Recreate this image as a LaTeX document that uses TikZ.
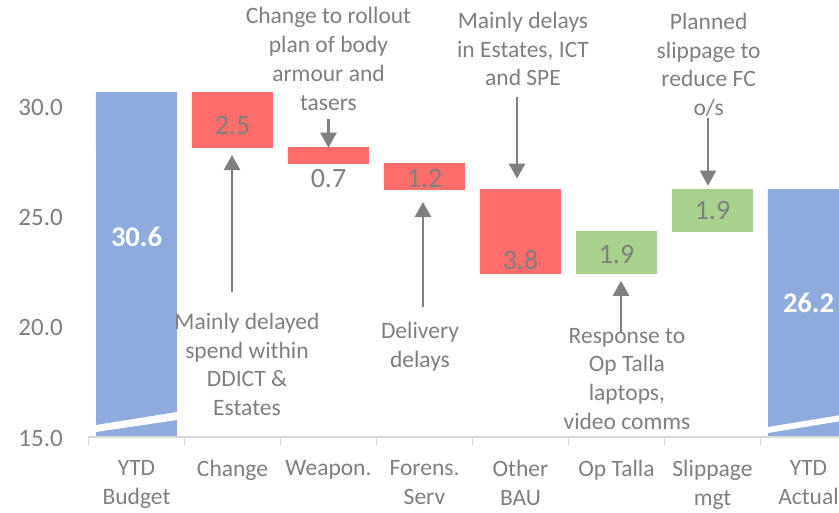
\documentclass[tikz,border=0pt]{standalone}
\usepackage{fontspec}
\setmainfont{Carlito}
\usetikzlibrary{arrows.meta, positioning, fit}

\definecolor{barblue}{HTML}{8FAADC}
\definecolor{barbluelt}{HTML}{ADC1E5}
\definecolor{barred}{HTML}{FF6C6C}
\definecolor{barredlt}{HTML}{FF8787}
\definecolor{bargreen}{HTML}{A9D18E}
\definecolor{bargreenlt}{HTML}{BBDBA4}
\definecolor{txtgray}{HTML}{7F7F7F}
\definecolor{axisgray}{HTML}{D9D9D9}

\begin{document}
\begin{tikzpicture}[
    x=96pt, y=22.07pt,
    bar/.style={rectangle, inner sep=0pt, draw=none},
    bluebar/.style={bar, fill=barblue},
    redbar/.style={bar, top color=barred, middle color=barredlt, bottom color=barred},
    greenbar/.style={bar, top color=bargreen, middle color=bargreenlt, bottom color=bargreen},
    note/.style={align=center, text=txtgray, inner sep=0pt, font=\fontsize{23.5}{28.8}\selectfont},
    catlabel/.style={align=center, text=txtgray, inner sep=0pt, anchor=north, font=\fontsize{23.5}{29}\selectfont},
    ticklabel/.style={text=txtgray, inner sep=0pt, anchor=east, font=\fontsize{25}{30}\selectfont},
    barval/.style={text=txtgray, inner sep=0pt, font=\fontsize{28}{32}\selectfont},
    totval/.style={text=white, inner sep=0pt, font=\bfseries\fontsize{28.5}{32}\selectfont},
    callout/.style={draw=txtgray, line width=2.6pt, -{Triangle[length=15pt, width=16pt]}}
]
\clip (-1.421875,11.5564) rectangle (7.317708,34.8006);

% Bars
\node[bluebar, fit={(-0.422,15) (0.422,30.6)}] (bud) {};
\node[redbar, fit={(0.578,28.1) (1.422,30.6)}] (chg) {};
\node[redbar, fit={(1.578,27.4) (2.422,28.1)}] (wpn) {};
\node[redbar, fit={(2.578,26.2) (3.422,27.4)}] (fsv) {};
\node[redbar, fit={(3.578,22.4) (4.422,26.2)}] (bau) {};
\node[greenbar, fit={(4.578,22.4) (5.422,24.3)}] (tal) {};
\node[greenbar, fit={(5.578,24.3) (6.422,26.2)}] (slp) {};
\node[bluebar, fit={(6.578,15) (7.422,26.2)}] (act) {};

% lighter band at top of totals
\shade[top color=barblue, middle color=barbluelt, bottom color=barblue] (-0.422,28.0) rectangle (0.422,30.6);
\shade[top color=barblue, middle color=barbluelt, bottom color=barblue] (6.578,23.9) rectangle (7.422,26.2);

% axis breaks
\fill[white] (-0.422,15.544) -- (0.422,16.133) -- (0.422,15.770) -- (-0.422,15.227) -- cycle;
\fill[white] (6.578,15.453) -- (7.422,16.056) -- (7.422,15.784) -- (6.578,15.181) -- cycle;

% Values
\node[totval] (budval) at (0,24.06) {30.6};
\node[barval] (chgval) at (1,29.09) {2.5};
\node[barval, below=6pt of wpn] (wpnval) {0.7};
\node[barval] (fsvval) at (3,26.69) {1.2};
\node[barval] (bauval) at (4,23.02) {3.8};
\node[barval] (talval) at (5,23.29) {1.9};
\node[barval] (slpval) at (6,25.24) {1.9};
\node[totval] (actval) at (7,21.07) {26.2};

% Axis
\draw[axisgray, line width=1.3pt] (-0.5,15) -- (7.4,15);
\foreach \i in {0,...,8}
  \draw[axisgray, line width=1.3pt] (\i-0.5,15) -- ++(0,-0.36);

\foreach \v in {15,20,25,30}
  \node[ticklabel] (tick\v) at (-0.766,\v-0.05) {\v.0};

\node[catlabel] (catbud) at (0,13.958) {YTD\\Budget};
\node[catlabel] (catchg) at (1,13.958) {Change};
\node[catlabel] (catwpn) at (2,13.958) {Weapon.};
\node[catlabel] (catfsv) at (3,13.958) {Forens.\\Serv};
\node[catlabel] (catbau) at (4,13.958) {Other\\BAU};
\node[catlabel] (cattal) at (5,13.958) {Op Talla};
\node[catlabel] (catslp) at (6,13.958) {Slippage\\mgt};
\node[catlabel] (catact) at (7,13.958) {YTD\\Actual};

% Notes
\node[note] (noteA) at (2.0,32.13) {Change to rollout\\plan of body\\armour and\\tasers};
\node[note] (noteB) at (4.026,32.58) {Mainly delays\\in Estates, ICT\\and SPE};
\node[note] (noteC) at (5.96,31.86) {Planned\\slippage to\\reduce FC\\o/s};
\node[note] (noteD) at (1.151,18.285) {Mainly delayed\\spend within\\DDICT \&\\Estates};
\node[note] (noteE) at (2.953,19.10) {Delivery\\delays};
\node[note] (noteF) at (5.109,17.63) {Response to\\Op Talla\\laptops,\\video comms};

% Arrows
\coordinate (tailA) at (2.0,29.41);
\coordinate (tailB) at (3.964,30.41);
\coordinate (tailC) at (5.953,29.45);
\coordinate (tailD) at (0.995,21.57);
\coordinate (tailE) at (2.984,20.89);
\coordinate (tailF) at (5.047,19.76);

\draw[callout] (tailA) -- (wpn.north);
\draw[callout, shorten >=11pt] (tailB) -- (tailB |- bau.north);
\draw[callout, shorten >=4pt] (tailC) -- (tailC |- slp.north);
\draw[callout, shorten >=7pt] (tailD) -- (tailD |- chg.south);
\draw[callout, shorten >=12pt] (tailE) -- (tailE |- fsv.south);
\draw[callout, shorten >=7pt] (tailF) -- (tailF |- tal.south);

\end{tikzpicture}
\end{document}
